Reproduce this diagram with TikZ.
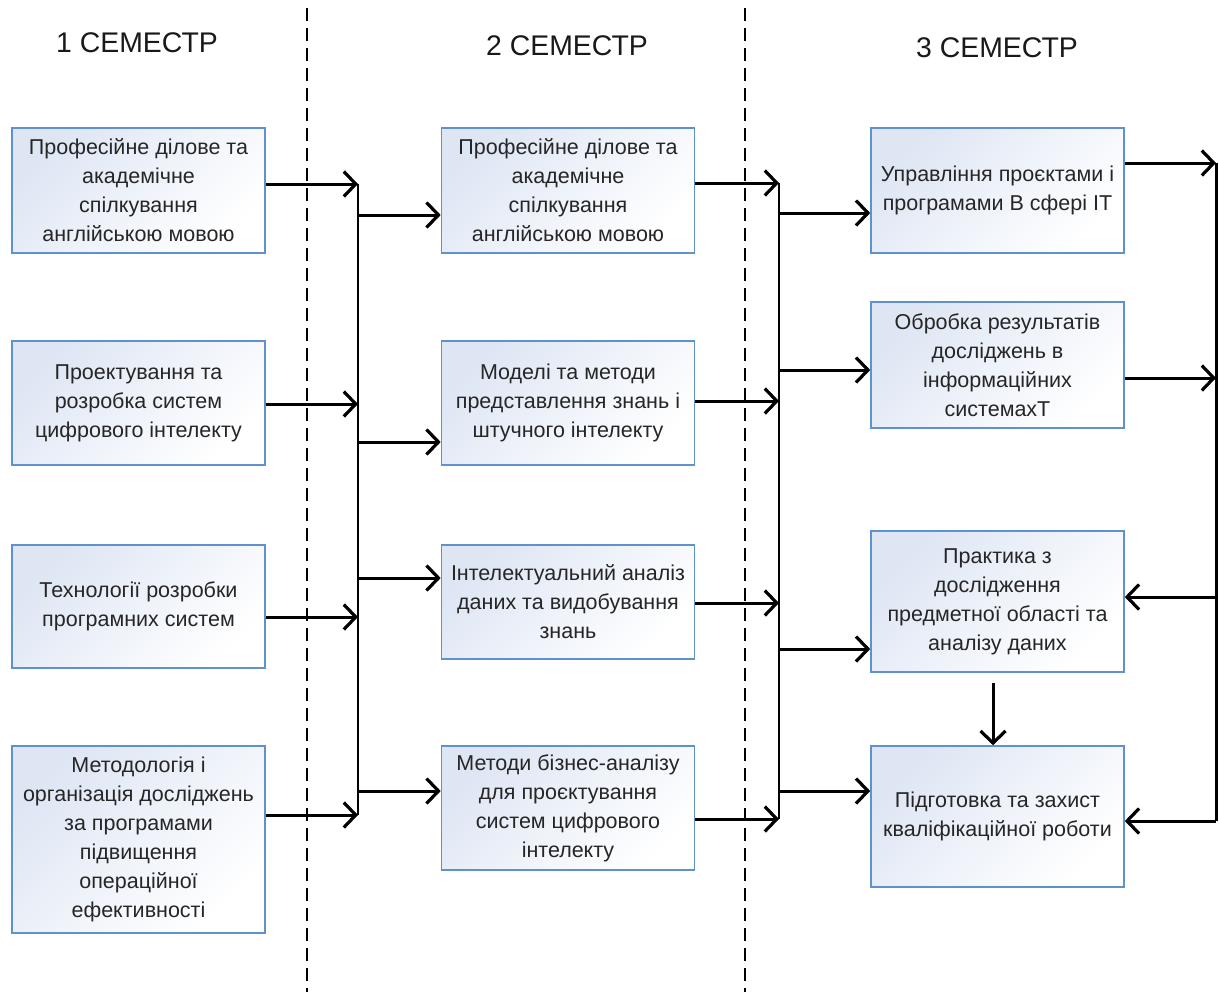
\documentclass[tikz,border=0pt]{standalone}
\usepackage{fontspec}
\setmainfont{Liberation Sans}
\usetikzlibrary{arrows.meta}
\definecolor{boxline}{RGB}{95,145,205}
\definecolor{boxshade}{RGB}{222,230,244}

\begin{document}
\begin{tikzpicture}[x=0.5pt, y=-0.5pt,
  box/.style={rectangle, draw=boxline, line width=0.8pt, inner sep=0pt,
              minimum width=126.5pt, align=center,
              top color=boxshade, bottom color=white, shading angle=45,
              font=\fontsize{10.75}{14.5}\selectfont, text=black!85},
  head/.style={font=\fontsize{14.2}{17}\selectfont, text=black!90},
  arrow/.style={-{Straight Barb[length=6pt,width=12.5pt,line width=1.6pt]}, line width=1.5pt},
  bus/.style={line width=1pt},
  divider/.style={dash pattern=on 6.5pt off 3.5pt, line width=1pt}
]
  \useasboundingbox (0,0) rectangle (1219,996);

  % Headers
  \node[head] (h1) at (137,43) {1 СЕМЕСТР};
  \node[head] (h2) at (567,46) {2 СЕМЕСТР};
  \node[head] (h3) at (997,48) {3 СЕМЕСТР};

  % Dividers
  \draw[divider] (307,8) -- (307,992);
  \draw[divider] (745,8) -- (745,992);

  % Nodes
  \node[box, minimum height=62.5pt] (s1a) at (138.5,190.5) {Професійне ділове та\\академічне\\спілкування\\англійською мовою};
  \node[box, minimum height=62pt]   (s1b) at (138.5,403)   {Проектування та\\розробка систем\\цифрового інтелекту};
  \node[box, minimum height=61.5pt] (s1c) at (138.5,606.5) {Технології розробки\\програмних систем};
  \node[box, minimum height=93.5pt] (s1d) at (138.5,839.5) {Методологія і\\організація досліджень\\за програмами\\підвищення\\операційної\\ефективності};

  \node[box, minimum height=62.5pt] (s2a) at (568,190.5) {Професійне ділове та\\академічне\\спілкування\\англійською мовою};
  \node[box, minimum height=62pt]   (s2b) at (568,403)   {Моделі та методи\\представлення знань і\\штучного інтелекту};
  \node[box, minimum height=57pt]   (s2c) at (568,602)   {Інтелектуальний аналіз\\даних та видобування\\знань};
  \node[box, minimum height=62pt]   (s2d) at (568,808)   {Методи бізнес-аналізу\\для проєктування\\систем цифрового\\інтелекту};

  \node[box, minimum height=62.5pt] (s3a) at (997.5,190.5) {Управління проєктами і\\програмами В сфері ІТ};
  \node[box, minimum height=63pt]   (s3b) at (997.5,365)   {Обробка результатів\\досліджень в\\інформаційних\\системахТ};
  \node[box, minimum height=70.5pt] (s3c) at (997.5,601.5) {Практика з\\дослідження\\предметної області та\\аналізу даних};
  \node[box, minimum height=70.5pt] (s3d) at (997.5,816.5) {Підготовка та захист\\кваліфікаційної роботи};

  % Bus points
  \coordinate (i1a) at (358,184);  \coordinate (o1a) at (358,215);
  \coordinate (i1b) at (358,404);  \coordinate (o1b) at (358,442);
  \coordinate (i1c) at (358,617);  \coordinate (o1c) at (358,578);
  \coordinate (i1d) at (358,815);  \coordinate (o1d) at (358,791);

  \coordinate (i2a) at (779,183);  \coordinate (o2a) at (779,213);
  \coordinate (i2b) at (779,401);  \coordinate (o2b) at (779,370);
  \coordinate (i2c) at (779,603);  \coordinate (o2c) at (779,649);
  \coordinate (i2d) at (779,819);  \coordinate (o2d) at (779,791);

  \coordinate (i3a) at (1216,163); \coordinate (i3b) at (1216,378);
  \coordinate (o3c) at (1216,597); \coordinate (o3d) at (1216,821);

  % Arrows
  \draw[bus] (i1a) -- (i1d);
  \draw[arrow] (s1a.east |- i1a) -- (i1a);
  \draw[arrow] (s1b.east |- i1b) -- (i1b);
  \draw[arrow] (s1c.east |- i1c) -- (i1c);
  \draw[arrow] (s1d.east |- i1d) -- (i1d);
  \draw[arrow] (o1a) -- (o1a -| s2a.west);
  \draw[arrow] (o1b) -- (o1b -| s2b.west);
  \draw[arrow] (o1c) -- (o1c -| s2c.west);
  \draw[arrow] (o1d) -- (o1d -| s2d.west);

  \draw[bus] (i2a) -- (i2d);
  \draw[arrow] (s2a.east |- i2a) -- (i2a);
  \draw[arrow] (s2b.east |- i2b) -- (i2b);
  \draw[arrow] (s2c.east |- i2c) -- (i2c);
  \draw[arrow] (s2d.east |- i2d) -- (i2d);
  \draw[arrow] (o2a) -- (o2a -| s3a.west);
  \draw[arrow] (o2b) -- (o2b -| s3b.west);
  \draw[arrow] (o2c) -- (o2c -| s3c.west);
  \draw[arrow] (o2d) -- (o2d -| s3d.west);

  \draw[bus, line width=1.5pt] (i3a) -- (o3d);
  \draw[arrow] (s3a.east |- i3a) -- (i3a);
  \draw[arrow] (s3b.east |- i3b) -- (i3b);
  \draw[arrow] (o3c) -- (o3c -| s3c.east);
  \draw[arrow] (o3d) -- (o3d -| s3d.east);
  \draw[arrow] ([xshift=-2.25pt,yshift=-5pt]s3c.south) -- ([xshift=-2.25pt]s3d.north);
\end{tikzpicture}
\end{document}
